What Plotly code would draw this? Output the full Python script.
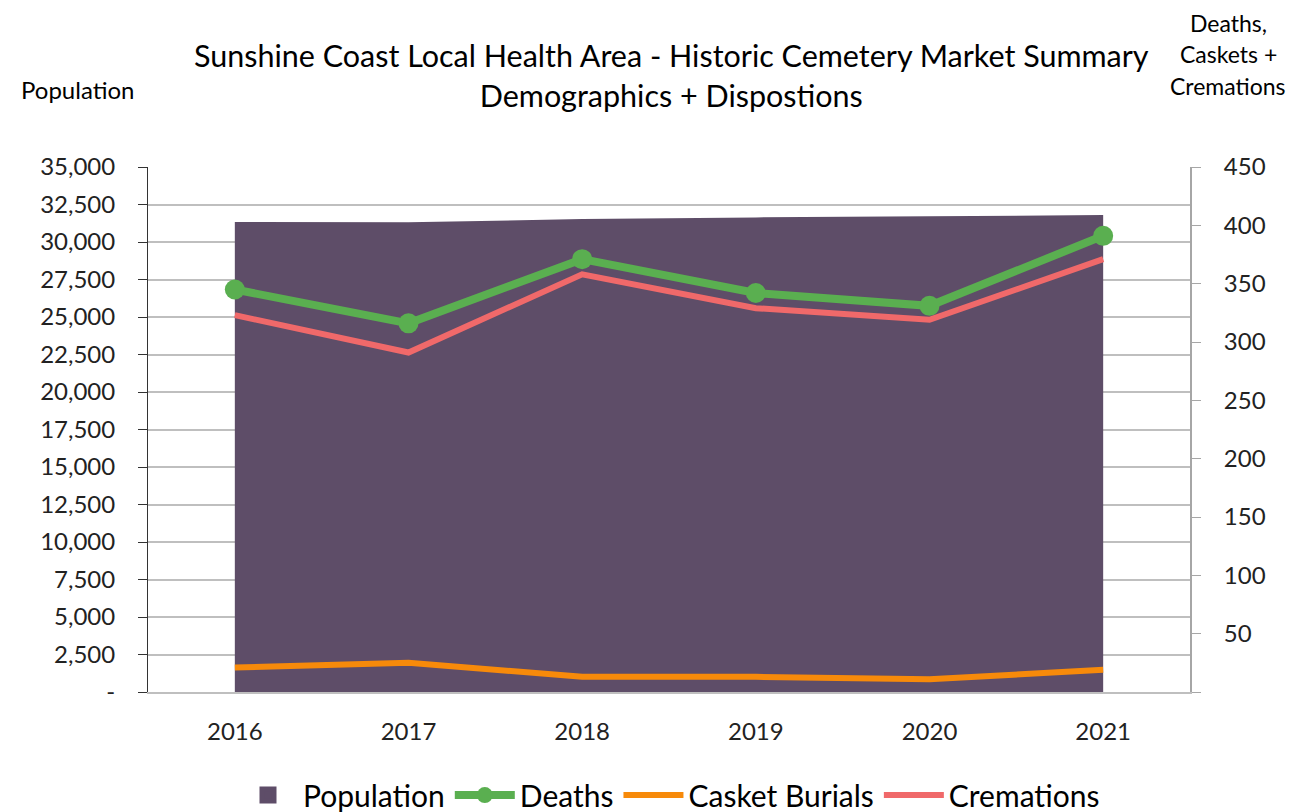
import plotly.graph_objects as go

years = ["2016", "2017", "2018", "2019", "2020", "2021"]
population = [31330, 31310, 31530, 31640, 31710, 31800]
deaths = [345, 316, 371, 342, 331, 391]
casket_burials = [21, 25, 13, 13, 11, 19]
cremations = [323, 291, 358, 329, 319, 371]

left_ticks = list(range(0, 35001, 2500))
left_text = ["-"] + [f"{v:,}" for v in left_ticks[1:]]
right_ticks = list(range(0, 451, 50))
right_text = [""] + [str(v) for v in right_ticks[1:]]

FONT = "Lato, 'Open Sans', sans-serif"
POP_COLOR = "#5E4D68"

# page has an 8px body margin; compensate so plot sits at page px 148..1190, 167..692
OFF = 8
W, H = 1294 - OFF, 812 - OFF
ML, MR, MT, MB = 148 - OFF, 104, 167 - OFF, 120

fig = go.Figure()
fig.add_trace(go.Scatter(
    x=years, y=population, name="Population", mode="none",
    fill="tozeroy", fillcolor=POP_COLOR, yaxis="y", showlegend=False))
fig.add_trace(go.Bar(
    x=[None], y=[None], name="Population",
    marker=dict(color=POP_COLOR, line=dict(color=POP_COLOR, width=6)),
    yaxis="y", showlegend=True))
fig.add_trace(go.Scatter(
    x=years, y=deaths, name="Deaths", mode="lines+markers",
    line=dict(color="#5AAF50", width=8),
    marker=dict(size=20, color="#5AAF50"), yaxis="y2"))
fig.add_trace(go.Scatter(
    x=years, y=casket_burials, name="Casket Burials", mode="lines",
    line=dict(color="#F78A0A", width=6), yaxis="y2"))
fig.add_trace(go.Scatter(
    x=years, y=cremations, name="Cremations", mode="lines",
    line=dict(color="#F0696A", width=6), yaxis="y2"))

fig.update_layout(
    width=W, height=H,
    paper_bgcolor="white", plot_bgcolor="white",
    margin=dict(l=ML, r=MR, t=MT, b=MB, autoexpand=False),
    font=dict(family=FONT, size=24, color="#222222"),
    showlegend=True,
    legend=dict(orientation="h", x=0.5, xanchor="center",
                yref="container", y=0.021, yanchor="middle",
                font=dict(size=30, color="black"), itemwidth=60,
                traceorder="normal"),
    xaxis=dict(type="category", range=[-0.5, 5.5], showgrid=False,
               showline=True, linecolor="#BFBFBF", linewidth=2,
               ticks="", tickfont=dict(size=24), ticklabelstandoff=17),
    yaxis=dict(range=[0, 35000], tickvals=left_ticks, ticktext=left_text,
               showgrid=True, gridcolor="#BFBFBF", gridwidth=1.5,
               showline=True, linecolor="#333333", linewidth=1,
               ticks="outside", ticklen=9, tickcolor="#333333",
               ticklabelstandoff=18, zeroline=False),
    yaxis2=dict(range=[0, 450], tickvals=right_ticks, ticktext=right_text,
                overlaying="y", side="right", showgrid=False,
                showline=True, linecolor="#A6A6A6", linewidth=2,
                ticks="outside", ticklen=9, tickcolor="#A6A6A6",
                ticklabelstandoff=18, zeroline=False),
)

pw = W - ML - MR
ph = H - MT - MB


def ann(text, px, py, size):
    fig.add_annotation(
        text=text, showarrow=False,
        x=(px - 148) / pw, y=(692 - py) / ph,
        xref="paper", yref="paper", xanchor="center", yanchor="middle",
        font=dict(size=size, color="black"))


ann("Sunshine Coast Local Health Area - Historic Cemetery Market Summary<br>Demographics + Dispostions",
    671, 75, 30.5)
ann("Population", 77, 89, 24)
ann("Deaths,", 1228, 23, 23)
ann("Caskets +", 1228, 54, 23)
ann("Cremations", 1228, 86, 23)

fig.write_html("out.html")
